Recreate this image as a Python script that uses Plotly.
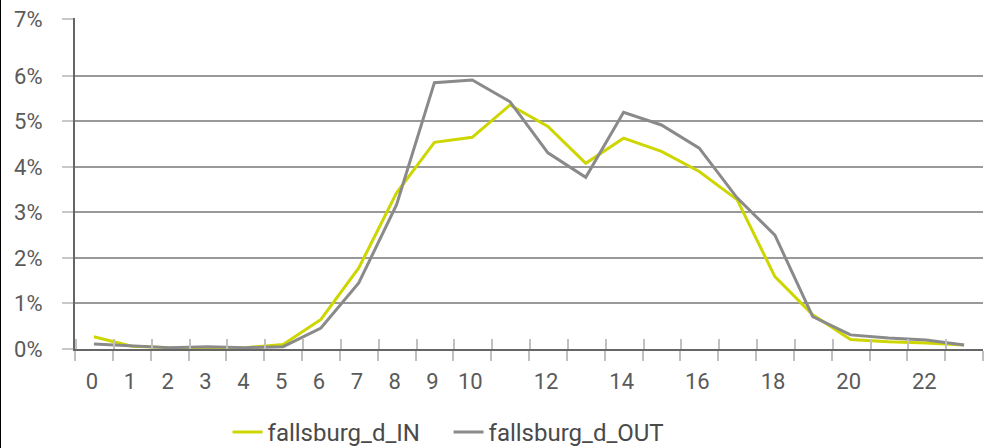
import plotly.graph_objects as go

hours = list(range(24))
in_pct = [0.27, 0.06, 0.03, 0.02, 0.03, 0.10, 0.65, 1.78, 3.43, 4.54, 4.65, 5.36, 4.89, 4.08,
          4.63, 4.34, 3.90, 3.28, 1.59, 0.75, 0.21, 0.16, 0.13, 0.09]
out_pct = [0.11, 0.07, 0.03, 0.05, 0.03, 0.05, 0.46, 1.45, 3.17, 5.85, 5.91, 5.43, 4.31, 3.77,
           5.20, 4.92, 4.41, 3.32, 2.50, 0.71, 0.31, 0.24, 0.20, 0.09]
x_labels = [0, 1, 2, 3, 4, 5, 6, 7, 8, 9, 10, 12, 14, 16, 18, 20, 22]
y_ticks = [0, 1, 2, 3, 4, 5, 6, 7.25]
y_labels = ["0%", "1%", "2%", "3%", "4%", "5%", "6%", "7%"]

FONT = "Roboto"
TXT = "#5a5a5a"
L, R, T, B = 75, 10, 18, 99
W, H = 993, 448
pw = W - L - R
ph = H - T - B
cat_px = pw / len(hours)

fig = go.Figure()
fig.add_trace(go.Scatter(x=hours, y=in_pct, mode="lines", name="fallsburg_d_IN",
                         line=dict(color="#cdd600", width=3)))
fig.add_trace(go.Scatter(x=hours, y=out_pct, mode="lines", name="fallsburg_d_OUT",
                         line=dict(color="#8a8a8a", width=3)))

# ticks sit on category boundaries; each label is shifted to its category centre
boundaries = [h - 0.5 for h in hours] + [hours[-1] + 0.5]
boundary_text = [str(h) if h in x_labels else "" for h in hours] + [""]

fig.update_layout(
    width=W, height=H,
    margin=dict(l=L, r=R, t=T, b=B, autoexpand=False),
    plot_bgcolor="white", paper_bgcolor="white",
    font=dict(family=FONT, size=22, color=TXT),
    showlegend=True,
    legend=dict(orientation="h", x=0.168, xanchor="left", yref="container", y=0.035,
                yanchor="middle", font=dict(size=24, color="#4a4a4a"),
                entrywidth=176, entrywidthmode="pixels"),
    xaxis=dict(range=[-0.5001, 23.5001], tickmode="array", tickvals=boundaries,
               ticktext=boundary_text, ticks="outside", ticklen=10, tickcolor="#c0c0c0",
               tickwidth=2, ticklabelshift=int(round(cat_px / 2 - 2)), ticklabelstandoff=2,
               showgrid=False, zeroline=False, showline=True, linecolor="#666666",
               linewidth=2, automargin=False, tickfont=dict(size=22, color=TXT),
               minor=dict(tickmode="array", tickvals=[b + 0.03 for b in boundaries],
                          ticks="inside", ticklen=10, tickcolor="#c0c0c0", tickwidth=2,
                          showgrid=False)),
    yaxis=dict(range=[0, 7.27], tickmode="array", tickvals=y_ticks, ticktext=y_labels,
               showgrid=True, gridcolor="#999999", gridwidth=2, zeroline=False,
               showline=True, linecolor="#666666", linewidth=2, automargin=False,
               ticks="outside", ticklen=11, tickcolor="#c8c8c8", tickwidth=2,
               ticklabelstandoff=15, tickfont=dict(size=22, color=TXT)),
    shapes=[dict(type="line", xref="paper", yref="paper",
                 x0=-L / pw, x1=-L / pw, y0=-B / ph, y1=1 + T / ph,
                 line=dict(color="black", width=2))],
)

fig.write_html("out.html", config={"displayModeBar": False},
               post_script="document.body.style.margin='0';document.body.style.padding='0';")
